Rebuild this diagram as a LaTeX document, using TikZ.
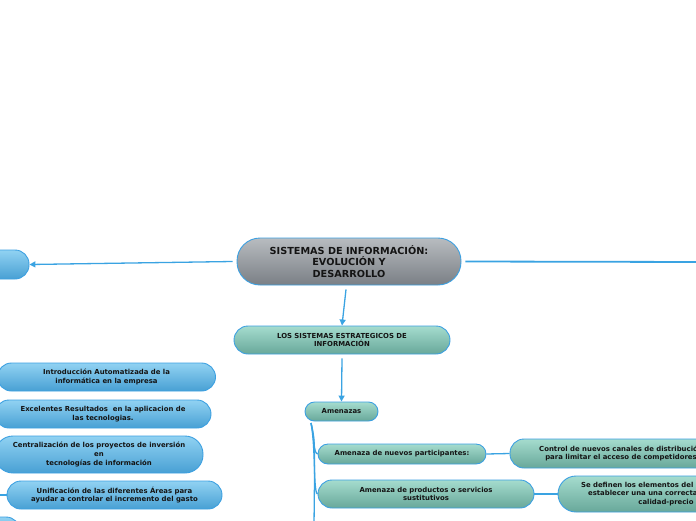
\documentclass[tikz,border=0pt]{standalone}
\usepackage{fontspec}
\setmainfont{DejaVu Sans}
\usepackage{tikz}
\usetikzlibrary{arrows.meta,positioning,calc}
\definecolor{linkblue}{RGB}{58,163,226}
\definecolor{edgeblue}{RGB}{60,160,225}
\definecolor{greytop}{RGB}{184,188,192}
\definecolor{greybot}{RGB}{122,127,133}
\definecolor{tealtop}{RGB}{165,220,206}
\definecolor{tealbot}{RGB}{104,168,154}
\definecolor{bluetop}{RGB}{145,210,242}
\definecolor{bluebot}{RGB}{72,160,212}
\definecolor{inkgrey}{RGB}{20,20,20}

\begin{document}
\begin{tikzpicture}[x=1pt,y=-1pt,
      pill/.style={draw=edgeblue,line width=0.9pt,align=center,inner sep=0pt,
                   text=inkgrey,font=\bfseries\fontsize{6.9}{8.7}\selectfont},
      rootbox/.style={pill,top color=greytop,bottom color=greybot,
                      rounded corners=23pt,minimum width=224pt,minimum height=47pt,
                      font=\bfseries\fontsize{9.7}{11.5}\selectfont},
      tealbox/.style={pill,top color=tealtop,bottom color=tealbot},
      bluebox/.style={pill,top color=bluetop,bottom color=bluebot},
      link/.style={draw=linkblue,line width=1.3pt},
      arr/.style={link,-{Triangle[length=6pt,width=6pt]}}]
      \useasboundingbox (0,0) rectangle (696,520);
      \clip (0,0) rectangle (696,520);

      % Centre
      \node[rootbox] (root) at (349,261.5) {SISTEMAS DE INFORMACIÓN:\\EVOLUCIÓN Y\\DESARROLLO};

      % Left branch
      \node[bluebox,rounded corners=14pt,minimum width=160pt,minimum height=29pt] (lft) at (-51,264.5) {};
      \node[bluebox,rounded corners=14pt,minimum width=218pt,minimum height=28pt] (intro) at (106.5,377)
           {Introducción Automatizada de la\\informática en la empresa};
      \node[bluebox,rounded corners=14pt,minimum width=216pt,minimum height=28pt] (exc) at (103,414)
           {Excelentes Resultados\ \ en la aplicacion de\\las tecnologias.};
      \node[bluebox,rounded corners=18pt,minimum width=208pt,minimum height=37pt] (cen) at (99,454.5)
           {Centralización de los proyectos de inversión\\en\\tecnologías de información};
      \node[bluebox,rounded corners=14pt,minimum width=215pt,minimum height=28pt] (uni) at (114.5,495)
           {Unificación de las diferentes Áreas para\\ayudar a controlar el incremento del gasto};
      \node[bluebox,rounded corners=14pt,minimum width=120pt,minimum height=28pt] (low) at (-40,531) {};
      \coordinate (unifrom) at (-6,495);

      % Right branch
      \coordinate (rgt) at (705,262);

      % Strategic systems
      \node[tealbox,rounded corners=14pt,minimum width=216pt,minimum height=28pt] (est) at (342,340)
           {LOS SISTEMAS ESTRATEGICOS DE\\INFORMACIÓN};
      \node[tealbox,rounded corners=9.5pt,minimum width=73pt,minimum height=19pt] (amen) at (341.5,411.5)
           {Amenazas};
      \node[tealbox,rounded corners=10pt,minimum width=168pt,minimum height=20pt] (anp) at (402,454)
           {Amenaza de nuevos participantes:};
      \node[tealbox,rounded corners=14pt,minimum width=216pt,minimum height=28pt] (aps) at (426,494)
           {Amenaza de productos o servicios\\sustitutivos};
      \node[tealbox,rounded corners=14pt,minimum width=222pt,minimum height=29pt] (ctrl) at (621,453.5)
           {Control de nuevos canales de distribución\\para limitar el acceso de competidores};
      \node[tealbox,rounded corners=18pt,minimum width=216pt,minimum height=36pt] (sed) at (666,494)
           {Se definen los elementos del producto para\\establecer una una correcta adecuación\\calidad-precio};
      \coordinate (amenroot) at (311,423);
      \coordinate (amenmore) at (314,525);

      \draw[arr] ([xshift=-4pt]root.west) -- (lft.east);
      \draw[link,line width=1.8pt] ([xshift=4pt]root.east) -- (rgt);
      \draw[arr] ([xshift=-3pt,yshift=-4pt]root.south) -- (est.north);
      \draw[arr] ([yshift=-4pt]est.south) -- (amen.north);
      \draw[link] (unifrom) -- (uni.west);
      \draw[link] (amenroot) .. controls (315,440) and (313,452) .. (anp.west);
      \draw[link] (amenroot) .. controls (316,450) and (313,492) .. (aps.west);
      \draw[link] (amenroot) .. controls (315,440) .. (amenmore);
      \draw[link] (anp.east) -- (ctrl.west);
      \draw[link] (aps.east) -- (sed.west);
    \end{tikzpicture}
\end{document}
